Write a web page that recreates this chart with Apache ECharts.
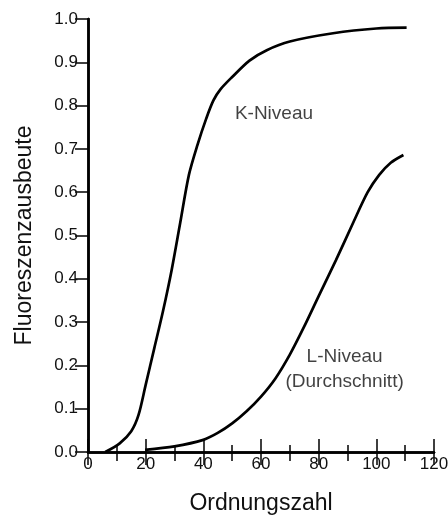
<!DOCTYPE html>
<html>
<head>
<meta charset="utf-8">
<script src="https://cdn.jsdelivr.net/npm/echarts@6/dist/echarts.min.js"></script>
<style>html,body{margin:0;padding:0;background:#fff}#c{width:448px;height:517px}</style>
</head>
<body>
<div id="c"></div>
<script>
// K-Niveau curve: [Ordnungszahl, Fluoreszenzausbeute]
const kNiveau = [[6,0],[11,0.02],[15,0.048],[17.5,0.085],[20,0.155],[23,0.24],[26,0.325],[29,0.42],[32,0.53],[35,0.64],[38,0.71],[41,0.77],[43.5,0.812],[46,0.838],[50,0.866],[56,0.904],[62,0.928],[70,0.948],[85,0.967],[100,0.978],[110.5,0.98]];
// L-Niveau (Durchschnitt) curve
const lNiveau = [[19.8,0.005],[30,0.013],[40,0.028],[45,0.044],[50,0.066],[55,0.094],[60,0.128],[65,0.17],[70,0.225],[75,0.29],[80,0.36],[86,0.443],[92,0.53],[97,0.6],[101,0.64],[105,0.668],[109.4,0.686]];
// curve labels at data coordinates
const curveLabels = [
  {text: 'K-Niveau', coord: [64.5, 0.782]},
  {text: 'L-Niveau\n(Durchschnitt)', coord: [89, 0.19]}
];
const xTitle = 'Ordnungszahl';
const yTitle = 'Fluoreszenzausbeute';

const font = 'Liberation Sans, Arial, sans-serif';
const chart = echarts.init(document.getElementById('c'));
const lineStyleAxis = {color: '#000', width: 2.5};
chart.setOption({
  animation: false,
  grid: {left: 88, right: 14, top: 19, bottom: 65, outerBoundsMode: 'none', containLabel: false},
  xAxis: [{
    type: 'value', min: 0, max: 120, interval: 20, position: 'bottom',
    name: xTitle, nameLocation: 'middle', nameGap: 40,
    nameTextStyle: {fontFamily: font, fontSize: 23, color: '#111'},
    axisLine: {show: true, lineStyle: lineStyleAxis},
    axisTick: {show: true, inside: true, length: 13, lineStyle: {color: '#000', width: 1.5}},
    minorTick: {show: true, splitNumber: 2, length: 7, lineStyle: {color: '#000', width: 1.5}},
    axisLabel: {fontFamily: font, fontSize: 17, color: '#111', margin: 4},
    splitLine: {show: false}
  }, {
    type: 'value', min: 0, max: 120, interval: 20, position: 'top',
    axisLine: {show: true, lineStyle: lineStyleAxis},
    axisTick: {show: true, inside: true, length: 13, lineStyle: {color: '#000', width: 1.5}},
    minorTick: {show: true, splitNumber: 2, length: 9, lineStyle: {color: '#000', width: 1.5}},
    axisLabel: {show: false},
    splitLine: {show: false}
  }],
  yAxis: [{
    type: 'value', min: 0, max: 1, interval: 0.1, position: 'left',
    name: yTitle, nameLocation: 'middle', nameGap: 52,
    nameTextStyle: {fontFamily: font, fontSize: 23, color: '#111'},
    axisLine: {show: true, lineStyle: lineStyleAxis},
    axisTick: {show: true, inside: false, length: 7, lineStyle: {color: '#000', width: 1.5}},
    axisLabel: {fontFamily: font, fontSize: 17, color: '#111', margin: 10, formatter: v => v.toFixed(1)},
    splitLine: {show: false}
  }, {
    type: 'value', min: 0, max: 1, interval: 0.1, position: 'right',
    axisLine: {show: true, lineStyle: lineStyleAxis},
    axisTick: {show: true, inside: true, length: 13, lineStyle: {color: '#000', width: 1.5}},
    axisLabel: {show: false},
    splitLine: {show: false}
  }],
  series: [{
    type: 'line', data: kNiveau, smooth: 0.3, showSymbol: false,
    lineStyle: {color: '#000', width: 2.7}
  }, {
    type: 'line', data: lNiveau, smooth: 0.3, showSymbol: false,
    lineStyle: {color: '#000', width: 2.7}
  }, {
    type: 'scatter', symbolSize: 0,
    data: curveLabels.map(d => ({value: d.coord, name: d.text})),
    label: {show: true, position: 'inside', formatter: p => p.name,
      fontFamily: font, fontSize: 19, color: '#111', lineHeight: 25, align: 'center'}
  }]
});
</script>
</body>
</html>
